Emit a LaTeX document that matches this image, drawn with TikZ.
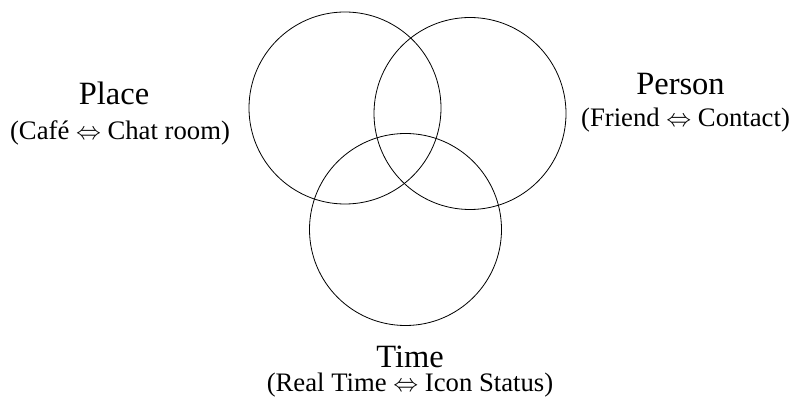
\documentclass[tikz,border=0pt]{standalone}
\usepackage{fontspec}
\setmainfont{Liberation Serif}
\begin{document}
\begin{tikzpicture}[x=1pt,y=1pt,
  venn/.style={draw=black,line width=0.8pt,circle,minimum size=192pt,inner sep=0pt},
  title/.style={font=\fontsize{32.5}{32.5}\selectfont,anchor=base,inner sep=0pt},
  sub/.style={font=\fontsize{26.7}{26.7}\selectfont,anchor=base,inner sep=0pt}]
\useasboundingbox (0,0) rectangle (797,396);
\node[venn] (place) at (345,288) {};
\node[venn] (person) at (470,282.5) {};
\node[venn] (time) at (405.5,166.5) {};
\node[title] (placeT) at (114,291) {Place};
\node[sub] (placeS) at (120,256) {(Café $\Leftrightarrow$ Chat room)};
\node[title] (personT) at (680.5,301) {Person};
\node[sub] (personS) at (685.5,269) {(Friend $\Leftrightarrow$ Contact)};
\node[title] (timeT) at (410,28) {Time};
\node[sub] (timeS) at (410,5) {(Real Time $\Leftrightarrow$ Icon Status)};
\end{tikzpicture}
\end{document}
